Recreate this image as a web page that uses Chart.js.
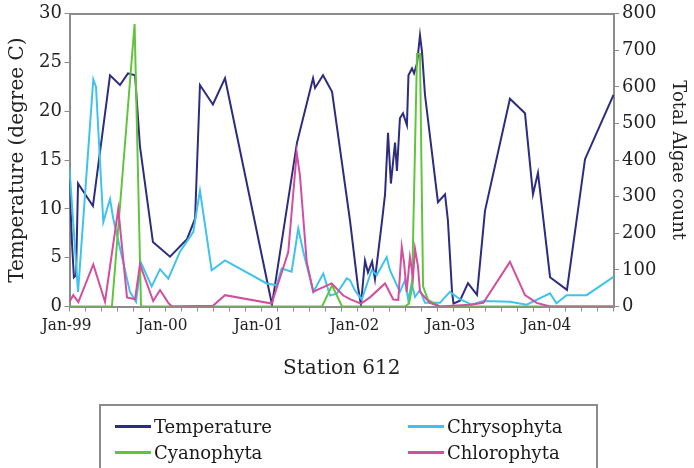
<!DOCTYPE html>
<html><head><meta charset="utf-8">
<script src="https://cdn.jsdelivr.net/npm/chart.js@4.4.1/dist/chart.umd.min.js"></script>
<style>
html,body{margin:0;padding:0;background:#fff;}
#wrap{position:relative;width:694px;height:468px;overflow:hidden;}
#legend{position:absolute;left:99px;top:404px;width:499px;height:70px;border:2px solid #8c8c8c;box-sizing:border-box;font-family:'DejaVu Serif';font-size:18px;color:#1a1a1a;}
.item{position:absolute;height:22px;display:flex;align-items:center;white-space:nowrap;}
.sw{display:inline-block;width:36px;height:3px;margin-right:3px;}
</style></head><body>
<div id="wrap"><canvas id="c" width="694" height="468"></canvas><div id="legend"></div></div>
<script>
// ---- data (x = decimal year) ----
const xTickYears = [1999, 2000, 2001, 2002, 2003, 2004];
const xTickLabels = ['Jan-99', 'Jan-00', 'Jan-01', 'Jan-02', 'Jan-03', 'Jan-04'];
const xMin = 1999.0;
const xMax = 2004.672;

const temperatureX = [1999.000,1999.026,1999.046,1999.068,1999.089,1999.244,1999.422,1999.526,1999.609,1999.683,1999.734,1999.869,2000.047,2000.224,2000.308,2000.359,2000.494,2000.620,2001.109,2001.370,2001.537,2001.558,2001.641,2001.735,2001.922,2002.005,2002.036,2002.078,2002.109,2002.152,2002.182,2002.256,2002.287,2002.318,2002.348,2002.391,2002.411,2002.442,2002.474,2002.515,2002.531,2002.568,2002.589,2002.620,2002.651,2002.672,2002.703,2002.838,2002.912,2002.942,2002.985,2003.000,2003.067,2003.151,2003.245,2003.328,2003.588,2003.745,2003.828,2003.880,2004.006,2004.182,2004.370,2004.667];
const temperatureY = [13.0,6.5,3.0,3.2,12.6,10.3,23.7,22.7,23.9,23.7,16.4,6.6,5.1,6.9,9.0,22.7,20.7,23.4,0.2,16.8,23.4,22.4,23.7,22.0,8.8,2.0,0.2,4.7,3.5,4.6,2.8,8.8,11.5,17.8,12.6,16.8,13.9,19.3,19.8,18.6,23.7,24.4,23.9,24.9,27.8,26.1,21.7,10.7,11.5,8.8,1.5,0.3,0.6,2.4,1.2,9.8,21.3,19.8,11.5,13.7,3.0,1.7,15.1,21.7];

const chrysophytaX = [1999.000,1999.089,1999.248,1999.276,1999.352,1999.422,1999.456,1999.630,1999.693,1999.745,1999.856,1999.943,2000.029,2000.151,2000.290,2000.359,2000.481,2000.620,2001.054,2001.158,2001.210,2001.314,2001.383,2001.436,2001.540,2001.644,2001.713,2001.783,2001.888,2001.922,2001.974,2002.044,2002.148,2002.200,2002.304,2002.338,2002.442,2002.495,2002.529,2002.564,2002.599,2002.651,2002.703,2002.859,2002.963,2003.067,2003.190,2003.311,2003.588,2003.762,2004.006,2004.072,2004.179,2004.387,2004.667];
const chrysophytaY = [376,40,621,600,231,294,240,40,13,120,55,102,76,150,204,317,99,126,63,58,104,95,213,149,40,90,30,35,77,72,44,19,99,86,135,99,40,72,18,64,26,45,10,10,40,20,5,15,13,5,36,9,31,31,81];

const cyanophytaX = [1999.000,1999.442,1999.678,1999.745,2001.631,2001.735,2001.839,2002.495,2002.536,2002.568,2002.620,2002.651,2002.683,2002.734,2002.859,2004.667];
const cyanophytaY = [0,0,772,0,0,58,0,0,8,50,690,690,55,18,0,0];

const chlorophytaX = [1999.000,1999.039,1999.092,1999.248,1999.370,1999.508,1999.599,1999.683,1999.734,1999.872,1999.943,2000.029,2000.067,2000.494,2000.620,2001.106,2001.279,2001.367,2001.401,2001.471,2001.540,2001.575,2001.731,2001.852,2001.922,2002.036,2002.130,2002.287,2002.373,2002.425,2002.461,2002.485,2002.512,2002.546,2002.578,2002.599,2002.630,2002.651,2002.755,2002.859,2003.171,2003.311,2003.588,2003.745,2003.866,2004.006,2004.667];
const chlorophytaY = [13,31,12,115,13,267,25,20,115,15,45,10,0,2,31,8,149,421,357,122,40,45,63,30,20,8,25,63,19,18,163,120,40,135,80,158,110,40,10,0,5,10,122,31,10,0,0];

const pts = (xs, ys) => xs.map((x, i) => ({x: x, y: ys[i]}));

const AXIS = '#8c8c8c';
const FONT = 'DejaVu Serif';

const datasets = [
  {label: 'Temperature', data: pts(temperatureX, temperatureY), borderColor: '#2d2c7e', yAxisID: 'y', order: 4},
  {label: 'Chrysophyta', data: pts(chrysophytaX, chrysophytaY), borderColor: '#3fc3ec', yAxisID: 'y1', order: 3},
  {label: 'Cyanophyta', data: pts(cyanophytaX, cyanophytaY), borderColor: '#62c43c', yAxisID: 'y1', order: 2},
  {label: 'Chlorophyta', data: pts(chlorophytaX, chlorophytaY), borderColor: '#d14f9f', yAxisID: 'y1', order: 1}
].map(d => Object.assign(d, {borderWidth: 2, pointRadius: 0, tension: 0, fill: false}));

const minorStep = 1 / 6;

const chart = new Chart(document.getElementById('c'), {
  type: 'line',
  data: {datasets: datasets},
  options: {
    responsive: false,
    animation: false,
    devicePixelRatio: 1,
    layout: {padding: {top: 11, left: 0, right: 0, bottom: 86.5}},
    plugins: {legend: {display: false}, tooltip: {enabled: false}},
    scales: {
      x: {
        type: 'linear', position: 'bottom', min: xMin, max: xMax,
        afterBuildTicks: (s) => {
          const t = [];
          for (let i = 0; xMin + i * minorStep <= s.max + 1e-9; i++) t.push({value: xMin + i * minorStep});
          s.ticks = t;
        },
        afterFit: (s) => { s.height = 75; },
        ticks: {
          autoSkip: false, maxRotation: 0, padding: 4, labelOffset: -3, color: '#222', font: {family: "'DejaVu Serif Condensed', 'DejaVu Serif'", size: 17},
          callback: (v) => {
            const r = Math.round(v);
            if (Math.abs(v - r) > 1e-6) return '';
            const i = xTickYears.indexOf(r);
            return i >= 0 ? xTickLabels[i] : '';
          }
        },
        grid: {drawOnChartArea: false, drawTicks: true, tickLength: 5, color: AXIS, lineWidth: 1},
        border: {display: true, color: AXIS, width: 2},
        title: {display: true, text: 'Station 612', color: '#222', font: {family: FONT, size: 20}, padding: {top: 0, bottom: 0.5}}
      },
      xTop: {
        type: 'linear', position: 'top', min: xMin, max: xMax,
        ticks: {display: false},
        grid: {display: false, drawTicks: false},
        border: {display: true, color: AXIS, width: 2}
      },
      y: {
        type: 'linear', position: 'left', min: 0, max: 30,
        afterFit: (s) => { s.width = 69.5; },
        ticks: {stepSize: 5, padding: 2.5, color: '#222', font: {family: FONT, size: 18}},
        grid: {drawOnChartArea: false, tickLength: 5, color: AXIS},
        border: {display: true, color: AXIS, width: 2},
        title: {display: true, text: 'Temperature (degree C)', color: '#222', font: {family: FONT, size: 20}, padding: {top: 6, bottom: 0}}
      },
      y1: {
        type: 'linear', position: 'right', min: 0, max: 800,
        afterFit: (s) => { s.width = 80; },
        ticks: {stepSize: 100, padding: 3, color: '#222', font: {family: FONT, size: 18}},
        grid: {drawOnChartArea: false, tickLength: 5, color: AXIS},
        border: {display: true, color: AXIS, width: 2},
        title: {display: true, text: 'Total Algae count', color: '#222', font: {family: FONT, size: 18}, padding: {top: 5.2, bottom: 0}}
      }
    }
  }
});

// HTML legend built from the chart's datasets (two columns, row-wise)
const legendPos = [[14, 9], [307, 9], [14, 35], [307, 35]];
const leg = document.getElementById('legend');
chart.data.datasets.forEach((d, i) => {
  const it = document.createElement('div');
  it.className = 'item';
  it.style.left = legendPos[i][0] + 'px';
  it.style.top = legendPos[i][1] + 'px';
  const sw = document.createElement('span');
  sw.className = 'sw';
  sw.style.background = d.borderColor;
  const tx = document.createElement('span');
  tx.textContent = d.label;
  it.appendChild(sw); it.appendChild(tx);
  leg.appendChild(it);
});
</script>
</body></html>
